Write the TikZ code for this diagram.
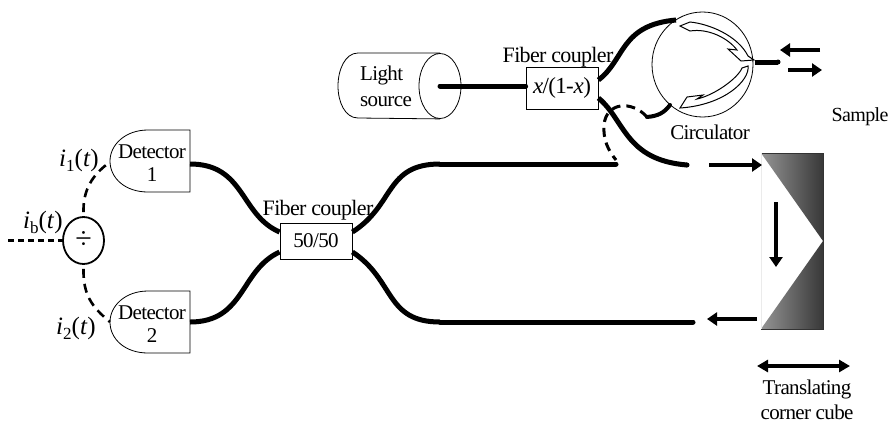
\documentclass[tikz,border=0pt]{standalone}
\usepackage{fontspec}
\setmainfont{Liberation Serif}
\newfontfamily\tightf[LetterSpace=-3]{Liberation Serif}
\usetikzlibrary{arrows.meta,shapes.geometric}
\tikzset{
  lbl/.style={inner sep=0pt,align=center,font=\tightf\fontsize{21}{25}\selectfont},
  lblw/.style={inner sep=0pt,align=center,font=\tightf\fontsize{22}{25}\selectfont},
  math/.style={inner sep=0pt,font=\fontsize{25}{28}\selectfont},
  coupler/.style={draw,line width=0.8pt,fill=white,inner sep=0pt,minimum width=72pt,minimum height=#1},
  fiber/.style={line width=5pt,line cap=round},
  dashfiber/.style={line width=2.6pt,dash pattern=on 9pt off 6pt},
  thin outline/.style={draw,line width=0.8pt},
  beam/.style={line width=3.4pt,-{Triangle[length=10pt,width=13pt]}},
  dbeam/.style={line width=3.4pt,{Triangle[length=11pt,width=12pt]}-{Triangle[length=11pt,width=12pt]}},
}
\newcommand{\subsc}[1]{\raisebox{-5pt}{\fontsize{17}{17}\selectfont #1}}
\begin{document}
\begin{tikzpicture}[x=1pt,y=-1pt]
\useasboundingbox (0,0) rectangle (890,424);
% corner cube
\shade[left color=black!42,right color=black!78] (761,153)--(823,153)--(823,241)--cycle;
\shade[left color=black!42,right color=black!78] (761,329)--(823,329)--(823,241)--cycle;
\draw[black!80,line width=1pt] (761,153)--(823,153)--(823,329)--(761,329);
\draw[black!8,line width=0.6pt] (761,153)--(761,329);
% light source
\node[ellipse,thin outline,fill=white,minimum width=42pt,minimum height=65pt,inner sep=0pt] (lampend) at (440,86) {};
\draw[line width=0.8pt] (lampend.north) -- (358,53) .. controls (345,53) and (338,70) .. (338,86) .. controls (338,102) and (345,118) .. (358,118) -- (lampend.south);
\node[lbl,align=left] (lamp) at (386,86) {Light\\[1pt]source};
% couplers
\node[coupler=42pt,font=\tightf\fontsize{23}{25}\selectfont] (ca) at (562,88) {\textit{x}/(1-\textit{x})};
\node[coupler=36pt,font=\tightf\fontsize{21}{25}\selectfont] (cb) at (316,241) {50/50};
% circulator
\node[ellipse,thin outline,minimum width=101pt,minimum height=105pt,inner sep=0pt] (circ) at (702.5,64.5) {};
\node[lbl] (circl) at (710,132) {Circulator};
\node[lbl,font=\tightf\fontsize{20}{25}\selectfont] (samp) at (860,117) {Sample};
\draw[line width=1pt,fill=white] (680,26) -- (690,22) .. controls (710,24) and (738,36) .. (748,56) -- (754,60) -- (741,61) -- (728,49) -- (737,50) .. controls (728,38) and (708,28) .. (690,31) -- cycle;
\draw[line width=1pt,fill=white] (748,66) .. controls (750,80) and (725,105) .. (680,108) -- (687,97) -- (703,95) -- (697,99) .. controls (715,95) and (738,78) .. (742,68) -- cycle;
% detectors
\draw[line width=0.8pt,fill=white] (190,130) -- (148,130) .. controls (125,130) and (110,145) .. (110,161) .. controls (110,178) and (125,192) .. (148,192) -- (190,192) -- cycle;
\draw[line width=0.8pt,fill=white] (190,291) -- (148,291) .. controls (125,291) and (110,306) .. (110,322) .. controls (110,339) and (125,353) .. (148,353) -- (190,353) -- cycle;
\node[lbl] (d1) at (152,163) {Detector\\[-2pt]1};
\node[lbl] (d2) at (152,324) {Detector\\[-2pt]2};
\coordinate (d1r) at (190,164);
\coordinate (d2r) at (190,322);
\coordinate (d1l) at (110,162);
\coordinate (d2l) at (110,322);
% divider
\node[ellipse,draw,line width=1.8pt,minimum width=41pt,minimum height=47pt,inner sep=0pt,font=\fontsize{30}{30}\selectfont] (dv) at (83.5,240.5) {÷};
\coordinate (in) at (8,240.5);
\draw[dashfiber,dash pattern=on 6pt off 4pt] (in) -- (dv.west);
\draw[dashfiber] ([yshift=4pt]dv.north) .. controls (83,190) and (92,175) .. (d1l);
\draw[dashfiber] ([yshift=-4pt]dv.south) .. controls (83,295) and (92,307) .. (d2l);
\node[math] (i1) at (79,160) {\textit{i}\subsc{1}(\textit{t})};
\node[math] (ib) at (43,222) {\textit{i}\subsc{b}(\textit{t})};
\node[math] (i2) at (76,328) {\textit{i}\subsc{2}(\textit{t})};
% fibres
\coordinate (a1) at (440,164);
\coordinate (a2) at (616,164);
\coordinate (b1) at (440,322);
\coordinate (b2) at (693,322);
\coordinate (cend) at (687,165);
\coordinate (port) at (778,62);
\coordinate (lp) at (647,117);
\draw[fiber] (lampend.center) -- ([yshift=2pt]ca.west);
\draw[fiber,line cap=butt] ([yshift=8pt]ca.east) .. controls (625,60) and (620,25) .. (676,20);
\draw[fiber] (cend) -- (cend);
\draw[fiber,line cap=butt] ([yshift=-10pt]ca.east) .. controls (625,120) and (625,160) .. (cend);
\draw[fiber,line cap=butt] (755,62) -- (port);
\draw[fiber] (port) -- (port);
\draw[fiber,line cap=butt] (d1r) .. controls (245,164) and (240,215) .. ([yshift=9pt]cb.west);
\draw[fiber,line cap=butt] (d2r) .. controls (245,322) and (240,270) .. ([yshift=-11pt]cb.west);
\draw[fiber,line cap=butt] ([yshift=9pt]cb.east) .. controls (395,205) and (385,164) .. (a1);
\draw[fiber,line cap=butt] ([yshift=-11pt]cb.east) .. controls (395,280) and (385,322) .. (b1);
\draw[fiber] (a1) -- (a2);
\draw[fiber] (b1) -- (b2);
% dashed loop from circulator
\draw[fiber,line width=4pt] (670,105) .. controls (664,113) and (658,116) .. (lp);
\draw[dashfiber,line width=3pt] (lp) .. controls (632,100) and (606,102) .. (604,125) .. controls (603,140) and (608,150) .. (616,160);
% labels over fibres
\node[lblw] (cal) at (558,57) {Fiber coupler};
\node[lblw] (cbl) at (318,210) {Fiber coupler};
% beam arrows
\coordinate (s1) at (820,50); \coordinate (s2) at (780,50);
\coordinate (s3) at (788,70); \coordinate (s4) at (822,70);
\draw[beam] (s1) -- (s2);
\draw[beam] (s3) -- (s4);
\coordinate (r1) at (709,165); \coordinate (r2) at (762,165);
\draw[beam] (r1) -- (r2);
\coordinate (c1) at (776,202); \coordinate (c2) at (776,267);
\draw[beam] (c1) -- (c2);
\coordinate (q1) at (757,319); \coordinate (q2) at (707,319);
\draw[beam] (q1) -- (q2);
\coordinate (t1) at (757,366); \coordinate (t2) at (850,366);
\draw[dbeam] (t1) -- (t2);
\node[lbl] (tl) at (807,400) {Translating\\[0pt]corner cube};
\end{tikzpicture}
\end{document}
